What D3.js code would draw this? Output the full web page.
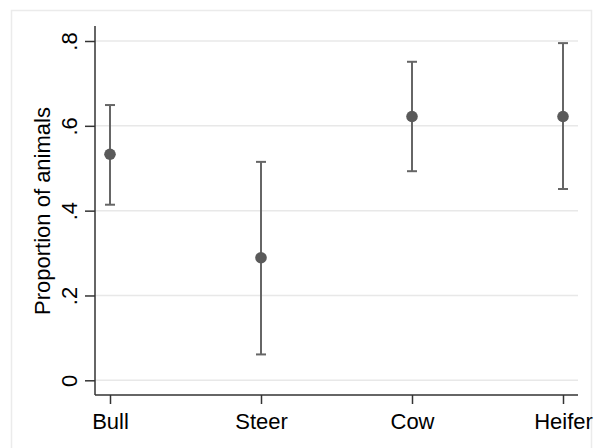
<!DOCTYPE html>
<html>
<head>
<meta charset="utf-8">
<style>
  body { margin: 0; background: #fff; }
  svg { display: block; font-family: "Liberation Sans", Arial, sans-serif; }
</style>
</head>
<body>
<svg></svg>
<script src="https://d3js.org/d3.v7.min.js"></script>
<script>

var categories = ["Bull", "Steer", "Cow", "Heifer"];
var proportion = [0.533, 0.289, 0.622, 0.622];
var lower = [0.414, 0.061, 0.493, 0.451];
var upper = [0.649, 0.515, 0.751, 0.795];
var yTicks = [0, 0.2, 0.4, 0.6, 0.8];
var yTickLabels = ["0", ".2", ".4", ".6", ".8"];

var width = 594;
var height = 448;

var svg = d3.select("svg")
    .attr("width", width)
    .attr("height", height);

// outer graph region frame
svg.append("rect")
    .attr("x", 11.5).attr("y", 10.5)
    .attr("width", 580).attr("height", 450)
    .attr("fill", "#fff")
    .attr("stroke", "#ebebeb")
    .attr("stroke-width", 1.5);

var plotLeft = 95, plotRight = 578, plotTop = 26, plotBottom = 395;

var y = d3.scaleLinear().domain([0, 0.8]).range([380.3, 41]);
var x = d3.scalePoint().domain(categories).range([110, 563]);

// gridlines
svg.append("g")
  .selectAll("line")
  .data(yTicks)
  .join("line")
    .attr("x1", plotLeft).attr("x2", plotRight)
    .attr("y1", d => y(d)).attr("y2", d => y(d))
    .attr("stroke", "#e8e8e8")
    .attr("stroke-width", 1.5);

// y axis
var yAxis = svg.append("g")
    .attr("transform", "translate(" + plotLeft + ",0)")
    .call(d3.axisLeft(y).tickValues(yTicks).tickFormat((d, i) => yTickLabels[i]).tickSize(10).tickSizeOuter(0));
yAxis.select(".domain").remove();
yAxis.append("line")
    .attr("x1", 0).attr("x2", 0)
    .attr("y1", plotTop).attr("y2", plotBottom)
    .attr("stroke", "#333").attr("stroke-width", 1.5);
yAxis.selectAll(".tick line").attr("stroke", "#333").attr("stroke-width", 1.5);
yAxis.selectAll(".tick text")
    .attr("font-size", 22)
    .attr("fill", "#000")
    .attr("text-anchor", "middle")
    .attr("dy", 0)
    .attr("transform", "translate(-18,0) rotate(-90)")
    .attr("x", 0).attr("y", 0);

// x axis
var xAxis = svg.append("g")
    .attr("transform", "translate(0," + plotBottom + ")")
    .call(d3.axisBottom(x).tickSize(9).tickSizeOuter(0).tickPadding(9));
xAxis.select(".domain").remove();
xAxis.append("line")
    .attr("x1", plotLeft).attr("x2", plotRight)
    .attr("y1", 0).attr("y2", 0)
    .attr("stroke", "#333").attr("stroke-width", 1.5);
xAxis.selectAll(".tick line").attr("stroke", "#333").attr("stroke-width", 1.5);
xAxis.selectAll(".tick text")
    .attr("font-size", 22)
    .attr("fill", "#000");

// axis title
svg.append("text")
    .attr("transform", "translate(50,211) rotate(-90)")
    .attr("text-anchor", "middle")
    .attr("font-size", 22)
    .attr("fill", "#000")
    .text("Proportion of animals");

var rows = categories.map((c, i) => ({ cat: c, p: proportion[i], lo: lower[i], hi: upper[i] }));

// error bars
var bars = svg.append("g")
    .attr("stroke", "#666")
    .attr("stroke-width", 2);
bars.selectAll(".whisker")
  .data(rows)
  .join("line")
    .attr("x1", d => x(d.cat)).attr("x2", d => x(d.cat))
    .attr("y1", d => y(d.lo)).attr("y2", d => y(d.hi));
bars.selectAll(".cap-hi")
  .data(rows)
  .join("line")
    .attr("class", "cap-hi")
    .attr("x1", d => x(d.cat) - 5).attr("x2", d => x(d.cat) + 5)
    .attr("y1", d => y(d.hi)).attr("y2", d => y(d.hi));
bars.selectAll(".cap-lo")
  .data(rows)
  .join("line")
    .attr("class", "cap-lo")
    .attr("x1", d => x(d.cat) - 5).attr("x2", d => x(d.cat) + 5)
    .attr("y1", d => y(d.lo)).attr("y2", d => y(d.lo));

// points
svg.append("g")
  .selectAll("circle")
  .data(rows)
  .join("circle")
    .attr("cx", d => x(d.cat))
    .attr("cy", d => y(d.p))
    .attr("r", 5.8)
    .attr("fill", "#5a5a5a");

</script>
</body>
</html>
